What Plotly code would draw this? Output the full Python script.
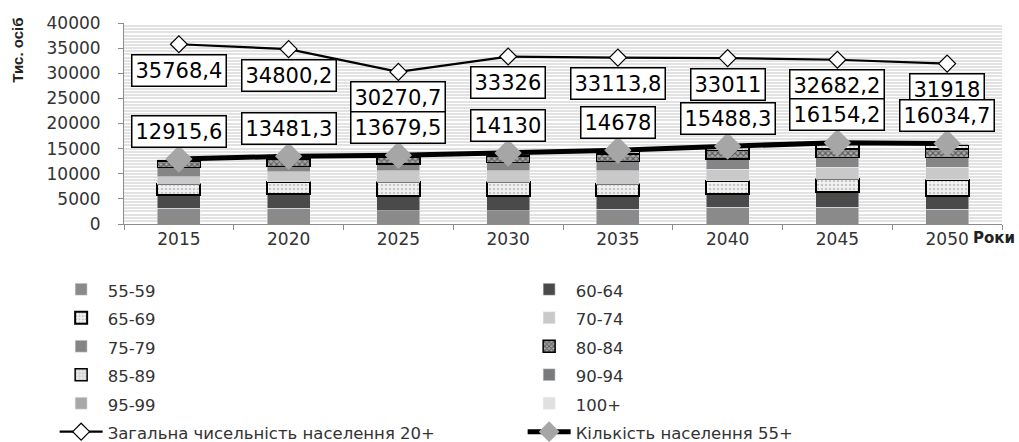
import plotly.graph_objects as go

years = ["2015", "2020", "2025", "2030", "2035", "2040", "2045", "2050"]

age_55_59 = [3100, 3100, 2650, 2650, 2980, 3310, 3310, 2980]
age_60_64 = [2700, 2850, 2980, 2980, 2650, 2650, 2980, 2650]
age_65_69 = [2100, 2450, 2650, 2650, 2320, 2650, 2650, 3180]
age_70_74 = [1500, 2000, 2320, 2320, 2650, 2320, 2320, 2450]
age_75_79 = [1850, 1060, 1330, 1660, 1790, 1990, 1990, 1990]
age_80_84 = [1300, 1450, 1450, 1320, 1520, 1660, 1660, 1660]
age_85_89 = [290, 450, 250, 430, 600, 700, 950, 850]
age_90_94 = [60, 100, 40, 100, 140, 170, 240, 220]
age_95_99 = [12, 16, 8, 15, 22, 30, 45, 45]
age_100p = [3.6, 5.3, 1.5, 5, 6, 8.3, 9.2, 9.7]

total_20p = [35768.4, 34800.2, 30270.7, 33326, 33113.8, 33011, 32682.2, 31918]
total_55p = [12915.6, 13481.3, 13679.5, 14130, 14678, 15488.3, 16154.2, 16034.7]

FONT = "DejaVu Sans"

fig = go.Figure()

bar_specs = [
    ("55-59", age_55_59, dict(color="#8a8a8a")),
    ("60-64", age_60_64, dict(color="#4a4a4a")),
    ("65-69", age_65_69, dict(color="white", pattern=dict(shape=".", fgcolor="#9a9a9a", bgcolor="#f2f2f2", size=4, solidity=0.35),
                              line=dict(color="black", width=2))),
    ("70-74", age_70_74, dict(color="#c9c9c9")),
    ("75-79", age_75_79, dict(color="#858585")),
    ("80-84", age_80_84, dict(color="white", pattern=dict(shape="x", fgcolor="#101010", bgcolor="#a8a8a8", size=4, solidity=0.5),
                              line=dict(color="black", width=1.5))),
    ("85-89", age_85_89, dict(color="white", pattern=dict(shape="+", fgcolor="#9a9a9a", bgcolor="#eeeeee", size=4, solidity=0.4),
                              line=dict(color="black", width=1.5))),
    ("90-94", age_90_94, dict(color="#7a7a7a")),
    ("95-99", age_95_99, dict(color="#a8a8a8")),
    ("100+", age_100p, dict(color="#e0e0e0")),
]

for name, vals, marker in bar_specs:
    fig.add_trace(go.Bar(
        x=years, y=vals, name=f'<span style="font-size:16.5px">{name}</span>',
        marker=marker, showlegend=True,
    ))

fig.add_trace(go.Scatter(
    x=years, y=total_20p, mode="lines+markers",
    name='<span style="font-size:16.5px">Загальна чисельність населення 20+</span>',
    line=dict(color="black", width=2.2),
    marker=dict(symbol="diamond", size=13, color="white", line=dict(color="black", width=1.2)),
))
fig.add_trace(go.Scatter(
    x=years, y=total_55p, mode="lines+markers",
    name='<span style="font-size:16.5px">Кількість населення 55+</span>',
    line=dict(color="black", width=5),
    marker=dict(symbol="diamond", size=21, color="#a6a6a6", line=dict(width=0)),
))


def fmt(v):
    return f"{v:g}".replace(".", ",")


annotations = []
for i, v in enumerate(total_20p):
    annotations.append(dict(x=i, y=v, xref="x", yref="y", text=fmt(v), showarrow=False,
                            yshift=-26, font=dict(family=FONT, size=21, color="black"),
                            bgcolor="white", bordercolor="black", borderwidth=1.5, borderpad=3))
for i, v in enumerate(total_55p):
    annotations.append(dict(x=i, y=v, xref="x", yref="y", text=fmt(v), showarrow=False,
                            yshift=28, font=dict(family=FONT, size=21, color="black"),
                            bgcolor="white", bordercolor="black", borderwidth=1.5, borderpad=3))

annotations.append(dict(x=-0.121, y=0.866, xref="paper", yref="paper", text="<b>Тис. осіб</b>",
                        xanchor="center", yanchor="middle",
                        textangle=-90, showarrow=False, font=dict(family="Liberation Sans", size=15, color="#222")))
annotations.append(dict(x=0.991, y=-0.07, xref="paper", yref="paper", text="<b>Роки</b>",
                        xanchor="center", yanchor="middle",
                        showarrow=False, font=dict(family=FONT, size=15, color="#222")))

fig.update_layout(
    width=1019, height=442,
    margin=dict(l=124, r=17, t=23, b=218, autoexpand=False),
    barmode="stack", bargap=0.61,
    plot_bgcolor="white", paper_bgcolor="white",
    font=dict(family=FONT, color="#333"),
    annotations=annotations,
    legend=dict(
        orientation="h", x=-0.079, xanchor="left", y=-0.229, yanchor="top",
        font=dict(family=FONT, size=19.6, color="#333"),
        itemwidth=43, entrywidth=410, entrywidthmode="pixels",
        traceorder="normal", bgcolor="rgba(0,0,0,0)",
    ),
    showlegend=True,
)

fig.update_xaxes(
    type="category", range=[-0.5, 7.5], showline=True, linecolor="#8c8c8c", linewidth=1,
    ticks="outside", tickson="boundaries", ticklen=5, tickcolor="#8c8c8c",
    tickfont=dict(family=FONT, size=17, color="#333"), showgrid=False,
)
fig.update_yaxes(
    range=[0, 40000], dtick=5000, tickformat="d",
    showline=True, linecolor="#8c8c8c", linewidth=1,
    ticks="outside", ticklen=5, tickcolor="#8c8c8c", ticklabelstandoff=14,
    tickfont=dict(family=FONT, size=17, color="#333"),
    showgrid=True, gridcolor="#e2e2e2", gridwidth=1.5,
    minor=dict(dtick=625, showgrid=True, gridcolor="#e2e2e2", gridwidth=1.5),
    zeroline=False,
)

fig.write_html("out.html")
